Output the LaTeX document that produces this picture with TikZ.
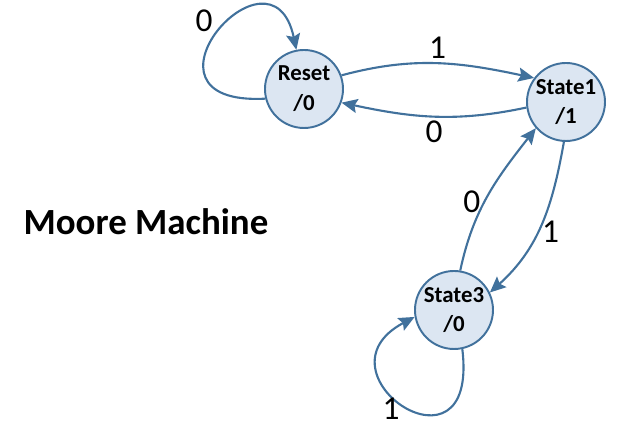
\documentclass[tikz,border=0pt]{standalone}
\usepackage{fontspec}
\setmainfont{Carlito}
\usepackage{xcolor}
\usetikzlibrary{arrows.meta,positioning}
\definecolor{Edge}{HTML}{41719C}
\definecolor{StateF}{HTML}{DCE6F2}

\begin{document}
\begin{tikzpicture}[
    state/.style={circle,draw=Edge,fill=StateF,line width=1.1pt,minimum size=1.56cm,
      inner sep=0pt,align=center,font=\fontsize{13}{17}\selectfont\bfseries},
    trans/.style={draw=Edge,line width=1.2pt,-{Stealth[length=9pt,width=8pt,inset=1.5pt]}},
    lbl/.style={font=\fontsize{19}{22}\selectfont,inner sep=2pt},
    >=Stealth]
  \useasboundingbox (0,0) rectangle (12.34,8.58);
  \node[state] (Reset) at (6.08,6.80) {Reset\\/0};
  \node[state] (S1) at (11.32,6.54) {State1\\/1};
  \node[state] (S3) at (9.08,2.38) {State3\\/0};
  \node[font=\fontsize{21}{25}\selectfont\bfseries] (title) at (2.92,4.14) {Moore Machine};
  % transitions
  \draw[trans] (Reset.20) to[out=15,in=168] node[lbl,above]{1} (S1.143);
  \draw[trans] (S1.188) to[out=192,in=-12] node[lbl,below]{0} (Reset.340);
  \draw[trans] (S1.267) to[out=260,in=42] node[lbl,right,pos=0.55]{1} (S3.26);
  \draw[trans] (S3.81) to[out=78,in=232] node[lbl,left,pos=0.45]{0} (S1.221);
  % self loops
  \draw[trans] (Reset.194) .. controls +(183:2.9) and +(102:2.4) .. (Reset.101);
  \node[lbl] (l0) at (4.08,8.16) {0};
  \draw[trans] (S3.282) .. controls +(277:2.8) and +(208:2.4) .. (S3.190);
  \node[lbl] (l1) at (7.82,0.4) {1};
\end{tikzpicture}
\end{document}
